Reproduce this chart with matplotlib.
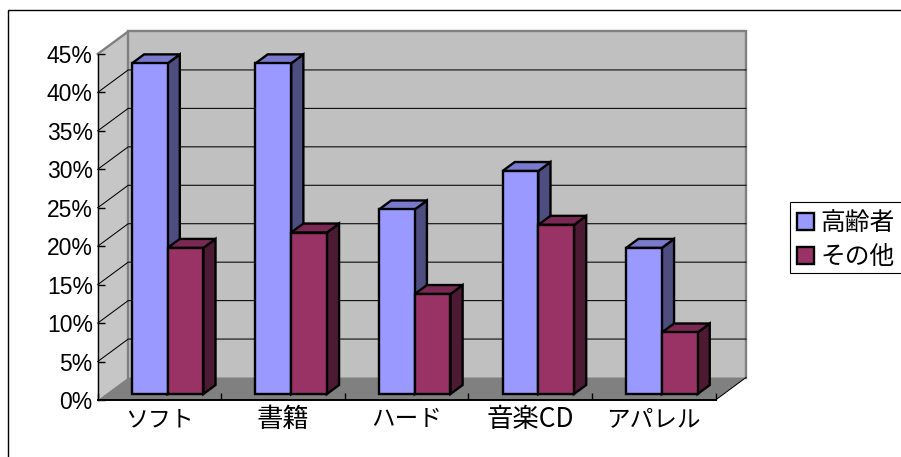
import matplotlib
matplotlib.use("Agg")
import matplotlib.pyplot as plt
from matplotlib.patches import Polygon, Patch, Rectangle
from matplotlib.lines import Line2D

categories = ["ソフト", "書籍", "ハード", "音楽CD", "アパレル"]
series_names = ["高齢者", "その他"]
elderly = [43, 43, 24, 29, 19]
others = [19, 21, 13, 22, 8]
y_ticks = [0, 5, 10, 15, 20, 25, 30, 35, 40, 45]

W, H = 901, 457
FONT = ["Noto Sans CJK JP", "DejaVu Sans"]
NARROW = ["Liberation Sans Narrow", "Liberation Sans", "DejaVu Sans"]
plt.rcParams["font.family"] = FONT

fig = plt.figure(figsize=(W / 100, H / 100), dpi=100, facecolor="white")
x0, x1, y0, y1 = 97.7, 715.5, 400.0, 54.0
ax = fig.add_axes([x0 / W, 1 - y0 / H, (x1 - x0) / W, (y0 - y1) / H])
ax.set_xlim(0, len(categories))
ax.set_ylim(0, 45)
ax.patch.set_visible(False)
for s in ax.spines.values():
    s.set_visible(False)

# oblique depth of the chart box, in data units
DX = 30.5 / ((x1 - x0) / 5)
DY = 22.5 / ((y0 - y1) / 45)


def proj(x, y, d):
    return (x + DX * d, y + DY * d)


def face(pts, color, z, ec="none", lw=0):
    ax.add_patch(Polygon([proj(*p) for p in pts], closed=True, fc=color, ec=ec, lw=lw,
                         zorder=z, clip_on=False, joinstyle="miter"))


n = len(categories)
top = y_ticks[-1]
GRID_W = 0.75
# side wall, back wall, floor
face([(0, 0, 0), (0, 0, 1), (0, top, 1), (0, top, 0)], "#C6C6C6", 1)
face([(0, 0, 1), (n, 0, 1), (n, top, 1), (0, top, 1)], "#C0C0C0", 1)
face([(0, 0, 0), (n, 0, 0), (n, 0, 1), (0, 0, 1)], "#808080", 1)
# grey wall borders
edges = [[(0, 0, 1), (0, top, 1), (n, top, 1), (n, 0, 1)], [(0, top, 0), (0, top, 1)]]
for e in edges:
    xs, ys = zip(*[proj(*p) for p in e])
    ax.plot(xs, ys, color="#808080", lw=1.7, zorder=2, clip_on=False, solid_joinstyle="miter")
# gridlines
for v in y_ticks[1:-1]:
    xs, ys = zip(*[proj(0, v, 0), proj(0, v, 1), proj(n, v, 1)])
    ax.plot(xs, ys, color="black", lw=GRID_W, zorder=3, clip_on=False)
# floor front edges
xs, ys = zip(*[proj(n, 0, 0), proj(n, 0, 1)])
ax.plot(xs, ys, color="black", lw=GRID_W, zorder=3, clip_on=False)
ax.plot([0, n], [0, 0], color="black", lw=1.4, zorder=3, clip_on=False)
ax.plot([0, 0], [0, top], color="black", lw=1.0, zorder=3, clip_on=False)

# bars
BAR_W = 35.7 / ((x1 - x0) / 5)
GAP = (1 - 2 * BAR_W) / 2
D0, D1 = 6 / 22.5, 15 / 22.5
palette = [("#9999FF", "#7A7ACC", "#4D4D80"), ("#993366", "#7A2952", "#4D1A33")]
z = 5
for i in range(n):
    for j, vals in enumerate((elderly, others)):
        l = i + GAP + j * BAR_W
        r = l + BAR_W
        v = vals[i]
        fc, tc, sc = palette[j]
        kw = dict(ec="black", lw=1.7)
        face([(r, 0, D0), (r, 0, D1), (r, v, D1), (r, v, D0)], sc, z, **kw)
        face([(l, v, D0), (r, v, D0), (r, v, D1), (l, v, D1)], tc, z, **kw)
        face([(l, 0, D0), (r, 0, D0), (r, v, D0), (l, v, D0)], fc, z, **kw)
        z += 1

# axes ticks and labels
ax.set_yticks(y_ticks)
ax.set_yticklabels([f"{v}%" for v in y_ticks], fontsize=16.5, color="black", family=NARROW)
ax.tick_params(axis="y", length=5, width=1.0, pad=3.5, direction="in")
ax.set_xticks(range(n + 1))
ax.set_xticklabels([])
ax.tick_params(axis="x", length=5, width=1.0, direction="in")
ax.set_xticks([i + 0.5 for i in range(n)], minor=True)
ax.set_xticklabels(categories, minor=True, color="black")
label_sizes = [16.5, 19, 17, 19, 17]
for t, s in zip(ax.get_xticklabels(minor=True), label_sizes):
    t.set_fontsize(s)
    t.set_va("center")
ax.tick_params(axis="x", which="minor", length=0, pad=14)

# legend: box drawn to the reference size, it runs past the picture's right edge
fig.add_artist(Rectangle((789.7 / W, 1 - 273 / H), 120 / W, 71 / H, transform=fig.transFigure,
                         fc="white", ec="black", lw=0.8, zorder=1))
handles = [Patch(fc=palette[0][0], ec="black", lw=1.7), Patch(fc=palette[1][0], ec="black", lw=1.7)]
leg = fig.legend(handles, series_names, loc="upper left", bbox_to_anchor=(790 / W, 1 - 203 / H),
                 bbox_transform=fig.transFigure, borderaxespad=0, fontsize=17.8, frameon=False,
                 handlelength=0.68, handleheight=0.65, handletextpad=0.26,
                 labelspacing=0.32, borderpad=0.3)
leg.set_zorder(2)

# chart area frame: the picture crops its right and bottom sides
fig.add_artist(Line2D([8 / W, 8 / W, 1], [0, 1 - 10 / H, 1 - 10 / H], color="black", lw=1.0,
                      solid_joinstyle="miter"))

fig.savefig("out.png", dpi=100, facecolor="white")
